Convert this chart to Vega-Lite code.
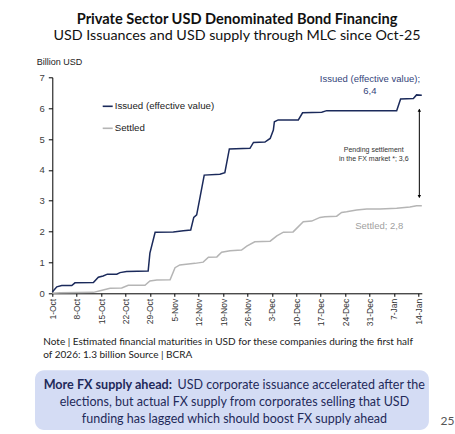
{
  "$schema": "https://vega.github.io/schema/vega-lite/v6.json",
  "width": 369.5,
  "height": 216,
  "autosize": {"type": "none"},
  "padding": {"left": 52.3, "top": 77.3, "right": 33.2, "bottom": 140.7},
  "background": "white",
  "title": {
    "text": "Private Sector USD Denominated Bond Financing",
    "subtitle": "USD Issuances and USD supply through MLC since Oct-25",
    "anchor": "middle",
    "offset": 14,
    "font": "Lato",
    "fontSize": 14.6,
    "fontWeight": "bold",
    "color": "#111111",
    "subtitleFont": "Lato",
    "subtitleFontSize": 14.3,
    "subtitleColor": "#111111",
    "subtitlePadding": 2
  },
  "config": {
    "view": {"stroke": null},
    "font": "Liberation Sans",
    "axis": {"labelOverlap": false, "grid": false}
  },
  "layer": [
    {
      "data": {
        "values": [
          {"date": "2025-10-01T00:00:00Z", "value": 0.04, "series": "Issued (effective value)"},
          {"date": "2025-10-02T07:00:00Z", "value": 0.21, "series": "Issued (effective value)"},
          {"date": "2025-10-03T17:00:00Z", "value": 0.25, "series": "Issued (effective value)"},
          {"date": "2025-10-06T14:00:00Z", "value": 0.25, "series": "Issued (effective value)"},
          {"date": "2025-10-07T12:00:00Z", "value": 0.34, "series": "Issued (effective value)"},
          {"date": "2025-10-12T19:00:00Z", "value": 0.35, "series": "Issued (effective value)"},
          {"date": "2025-10-14T05:00:00Z", "value": 0.52, "series": "Issued (effective value)"},
          {"date": "2025-10-15T14:00:00Z", "value": 0.56, "series": "Issued (effective value)"},
          {"date": "2025-10-16T19:00:00Z", "value": 0.62, "series": "Issued (effective value)"},
          {"date": "2025-10-19T12:00:00Z", "value": 0.62, "series": "Issued (effective value)"},
          {"date": "2025-10-20T10:00:00Z", "value": 0.67, "series": "Issued (effective value)"},
          {"date": "2025-10-22T07:00:00Z", "value": 0.71, "series": "Issued (effective value)"},
          {"date": "2025-10-28T12:00:00Z", "value": 0.72, "series": "Issued (effective value)"},
          {"date": "2025-10-29T00:00:00Z", "value": 1.30, "series": "Issued (effective value)"},
          {"date": "2025-10-30T12:00:00Z", "value": 1.98, "series": "Issued (effective value)"},
          {"date": "2025-11-04T17:00:00Z", "value": 1.99, "series": "Issued (effective value)"},
          {"date": "2025-11-07T14:00:00Z", "value": 2.03, "series": "Issued (effective value)"},
          {"date": "2025-11-09T17:00:00Z", "value": 2.05, "series": "Issued (effective value)"},
          {"date": "2025-11-10T14:00:00Z", "value": 2.46, "series": "Issued (effective value)"},
          {"date": "2025-11-11T10:00:00Z", "value": 2.54, "series": "Issued (effective value)"},
          {"date": "2025-11-12T10:00:00Z", "value": 3.13, "series": "Issued (effective value)"},
          {"date": "2025-11-13T14:00:00Z", "value": 3.83, "series": "Issued (effective value)"},
          {"date": "2025-11-18T02:00:00Z", "value": 3.86, "series": "Issued (effective value)"},
          {"date": "2025-11-19T12:00:00Z", "value": 3.91, "series": "Issued (effective value)"},
          {"date": "2025-11-20T19:00:00Z", "value": 4.68, "series": "Issued (effective value)"},
          {"date": "2025-11-26T17:00:00Z", "value": 4.70, "series": "Issued (effective value)"},
          {"date": "2025-11-27T17:00:00Z", "value": 4.89, "series": "Issued (effective value)"},
          {"date": "2025-12-01T00:00:00Z", "value": 4.90, "series": "Issued (effective value)"},
          {"date": "2025-12-02T12:00:00Z", "value": 5.02, "series": "Issued (effective value)"},
          {"date": "2025-12-03T10:00:00Z", "value": 5.29, "series": "Issued (effective value)"},
          {"date": "2025-12-03T17:00:00Z", "value": 5.56, "series": "Issued (effective value)"},
          {"date": "2025-12-04T19:00:00Z", "value": 5.62, "series": "Issued (effective value)"},
          {"date": "2025-12-10T14:00:00Z", "value": 5.62, "series": "Issued (effective value)"},
          {"date": "2025-12-11T19:00:00Z", "value": 5.85, "series": "Issued (effective value)"},
          {"date": "2025-12-17T07:00:00Z", "value": 5.87, "series": "Issued (effective value)"},
          {"date": "2025-12-18T17:00:00Z", "value": 5.92, "series": "Issued (effective value)"},
          {"date": "2026-01-07T19:00:00Z", "value": 5.92, "series": "Issued (effective value)"},
          {"date": "2026-01-08T22:00:00Z", "value": 6.30, "series": "Issued (effective value)"},
          {"date": "2026-01-12T14:00:00Z", "value": 6.31, "series": "Issued (effective value)"},
          {"date": "2026-01-13T12:00:00Z", "value": 6.43, "series": "Issued (effective value)"},
          {"date": "2026-01-15T00:00:00Z", "value": 6.42, "series": "Issued (effective value)"},
          {"date": "2025-10-01T00:00:00Z", "value": 0.00, "series": "Settled"},
          {"date": "2025-10-03T05:00:00Z", "value": 0.02, "series": "Settled"},
          {"date": "2025-10-12T19:00:00Z", "value": 0.03, "series": "Settled"},
          {"date": "2025-10-14T17:00:00Z", "value": 0.08, "series": "Settled"},
          {"date": "2025-10-17T14:00:00Z", "value": 0.16, "series": "Settled"},
          {"date": "2025-10-20T22:00:00Z", "value": 0.17, "series": "Settled"},
          {"date": "2025-10-22T19:00:00Z", "value": 0.26, "series": "Settled"},
          {"date": "2025-10-27T14:00:00Z", "value": 0.26, "series": "Settled"},
          {"date": "2025-10-29T00:00:00Z", "value": 0.40, "series": "Settled"},
          {"date": "2025-10-31T00:00:00Z", "value": 0.43, "series": "Settled"},
          {"date": "2025-11-03T19:00:00Z", "value": 0.44, "series": "Settled"},
          {"date": "2025-11-05T05:00:00Z", "value": 0.83, "series": "Settled"},
          {"date": "2025-11-06T14:00:00Z", "value": 0.92, "series": "Settled"},
          {"date": "2025-11-10T22:00:00Z", "value": 0.97, "series": "Settled"},
          {"date": "2025-11-13T07:00:00Z", "value": 1.01, "series": "Settled"},
          {"date": "2025-11-14T19:00:00Z", "value": 1.17, "series": "Settled"},
          {"date": "2025-11-17T05:00:00Z", "value": 1.18, "series": "Settled"},
          {"date": "2025-11-18T14:00:00Z", "value": 1.33, "series": "Settled"},
          {"date": "2025-11-21T00:00:00Z", "value": 1.38, "series": "Settled"},
          {"date": "2025-11-24T07:00:00Z", "value": 1.40, "series": "Settled"},
          {"date": "2025-11-25T19:00:00Z", "value": 1.53, "series": "Settled"},
          {"date": "2025-11-28T02:00:00Z", "value": 1.67, "series": "Settled"},
          {"date": "2025-12-02T12:00:00Z", "value": 1.69, "series": "Settled"},
          {"date": "2025-12-04T10:00:00Z", "value": 1.86, "series": "Settled"},
          {"date": "2025-12-06T07:00:00Z", "value": 1.98, "series": "Settled"},
          {"date": "2025-12-09T02:00:00Z", "value": 1.99, "series": "Settled"},
          {"date": "2025-12-12T00:00:00Z", "value": 2.32, "series": "Settled"},
          {"date": "2025-12-14T10:00:00Z", "value": 2.34, "series": "Settled"},
          {"date": "2025-12-16T19:00:00Z", "value": 2.46, "series": "Settled"},
          {"date": "2025-12-18T05:00:00Z", "value": 2.48, "series": "Settled"},
          {"date": "2025-12-21T14:00:00Z", "value": 2.50, "series": "Settled"},
          {"date": "2025-12-23T00:00:00Z", "value": 2.62, "series": "Settled"},
          {"date": "2025-12-24T10:00:00Z", "value": 2.64, "series": "Settled"},
          {"date": "2025-12-27T07:00:00Z", "value": 2.70, "series": "Settled"},
          {"date": "2025-12-30T05:00:00Z", "value": 2.73, "series": "Settled"},
          {"date": "2026-01-03T00:00:00Z", "value": 2.73, "series": "Settled"},
          {"date": "2026-01-07T19:00:00Z", "value": 2.76, "series": "Settled"},
          {"date": "2026-01-11T14:00:00Z", "value": 2.80, "series": "Settled"},
          {"date": "2026-01-13T12:00:00Z", "value": 2.84, "series": "Settled"},
          {"date": "2026-01-15T00:00:00Z", "value": 2.84, "series": "Settled"}
        ]
      },
      "mark": {"type": "line", "strokeWidth": 1.5},
      "encoding": {
        "x": {
          "field": "date",
          "type": "temporal",
          "scale": {
            "type": "utc",
            "domain": [
              {"year": 2025, "month": 10, "date": 1, "utc": true},
              {"year": 2026, "month": 1, "date": 15, "utc": true}
            ]
          },
          "axis": {
            "title": null,
            "format": "%-d-%b",
            "labelAngle": -90,
            "labelOverlap": false,
            "labelFontSize": 8.5,
            "labelColor": "#333333",
            "labelPadding": 2,
            "tickSize": 3,
            "tickCount": 40,
            "tickColor": "#000000",
            "domainColor": "#000000",
            "values": [
              {"year": 2025, "month": 10, "date": 1, "utc": true},
              {"year": 2025, "month": 10, "date": 8, "utc": true},
              {"year": 2025, "month": 10, "date": 15, "utc": true},
              {"year": 2025, "month": 10, "date": 22, "utc": true},
              {"year": 2025, "month": 10, "date": 29, "utc": true},
              {"year": 2025, "month": 11, "date": 5, "utc": true},
              {"year": 2025, "month": 11, "date": 12, "utc": true},
              {"year": 2025, "month": 11, "date": 19, "utc": true},
              {"year": 2025, "month": 11, "date": 26, "utc": true},
              {"year": 2025, "month": 12, "date": 3, "utc": true},
              {"year": 2025, "month": 12, "date": 10, "utc": true},
              {"year": 2025, "month": 12, "date": 17, "utc": true},
              {"year": 2025, "month": 12, "date": 24, "utc": true},
              {"year": 2025, "month": 12, "date": 31, "utc": true},
              {"year": 2026, "month": 1, "date": 7, "utc": true},
              {"year": 2026, "month": 1, "date": 14, "utc": true}
            ]
          }
        },
        "y": {
          "field": "value",
          "type": "quantitative",
          "scale": {"domain": [0, 7], "nice": false},
          "axis": {
            "title": "Billion USD",
            "titleAngle": 0,
            "titleAlign": "left",
            "titleBaseline": "alphabetic",
            "titleX": -16,
            "titleY": -13,
            "titleFontSize": 9,
            "titleFontWeight": "normal",
            "titleColor": "#222222",
            "values": [0, 1, 2, 3, 4, 5, 6, 7],
            "format": "d",
            "tickCount": 20,
            "labelOverlap": false,
            "labelFontSize": 9.5,
            "labelColor": "#404040",
            "labelPadding": 4,
            "tickSize": 4,
            "tickColor": "#000000",
            "domainColor": "#000000"
          }
        },
        "color": {
          "field": "series",
          "type": "nominal",
          "scale": {
            "domain": ["Issued (effective value)", "Settled"],
            "range": ["#1B2A5B", "#B5B5B5"]
          },
          "legend": {
            "orient": "none",
            "legendX": 49.4,
            "legendY": 23,
            "title": null,
            "padding": 0,
            "symbolType": "stroke",
            "symbolSize": 100,
            "symbolStrokeWidth": 1.6,
            "labelFontSize": 9.7,
            "labelColor": "#222222",
            "labelOffset": 1,
            "rowPadding": 11
          }
        }
      }
    },
    {
      "data": {"values": [{}]},
      "mark": {"type": "rect", "fill": "#D4DCF4", "cornerRadius": 9},
      "encoding": {
        "x": {"datum": {"year": 2025, "month": 9, "date": 26, "hours": 1, "utc": true}, "type": "temporal"},
        "x2": {"datum": {"year": 2026, "month": 1, "date": 17, "hours": 1, "utc": true}},
        "y": {"datum": -2.49, "type": "quantitative"},
        "y2": {"datum": -4.43}
      }
    },
    {
      "data": {"values": [{}]},
      "mark": {"type": "rule", "color": "#000000", "strokeWidth": 1},
      "encoding": {
        "x": {"datum": {"year": 2026, "month": 1, "date": 14, "hours": 7, "utc": true}, "type": "temporal"},
        "y": {"datum": 3.11, "type": "quantitative"},
        "y2": {"datum": 5.96}
      }
    },
    {
      "data": {"values": [{}]},
      "mark": {"type": "point", "shape": "triangle-up", "filled": true, "size": 12, "color": "#000000", "opacity": 1},
      "encoding": {
        "x": {"datum": {"year": 2026, "month": 1, "date": 14, "hours": 7, "utc": true}, "type": "temporal"},
        "y": {"datum": 5.93, "type": "quantitative"}
      }
    },
    {
      "data": {"values": [{}]},
      "mark": {"type": "point", "shape": "triangle-down", "filled": true, "size": 12, "color": "#000000", "opacity": 1},
      "encoding": {
        "x": {"datum": {"year": 2026, "month": 1, "date": 14, "hours": 7, "utc": true}, "type": "temporal"},
        "y": {"datum": 3.14, "type": "quantitative"}
      }
    },
    {
      "data": {"values": [{}]},
      "mark": {"type": "text", "align": "center", "baseline": "middle", "fontSize": 9.5, "lineHeight": 12, "color": "#34447A"},
      "encoding": {
        "x": {"datum": {"year": 2025, "month": 12, "date": 31, "hours": 3, "utc": true}, "type": "temporal"},
        "y": {"datum": 6.94, "type": "quantitative"},
        "text": {"value": ["Issued (effective value);", "6,4"]}
      }
    },
    {
      "data": {"values": [{}]},
      "mark": {"type": "text", "align": "center", "baseline": "middle", "fontSize": 7, "lineHeight": 9, "color": "#333333"},
      "encoding": {
        "x": {"datum": {"year": 2026, "month": 1, "date": 1, "hours": 5, "utc": true}, "type": "temporal"},
        "y": {"datum": 4.645, "type": "quantitative"},
        "text": {"value": ["Pending settlement", "in the FX market *; 3,6"]}
      }
    },
    {
      "data": {"values": [{}]},
      "mark": {"type": "text", "align": "center", "baseline": "middle", "fontSize": 9.5, "color": "#A0A0A0"},
      "encoding": {
        "x": {"datum": {"year": 2026, "month": 1, "date": 2, "hours": 19, "utc": true}, "type": "temporal"},
        "y": {"datum": 2.18, "type": "quantitative"},
        "text": {"value": "Settled; 2,8"}
      }
    },
    {
      "data": {"values": [{}]},
      "mark": {"type": "text", "align": "left", "baseline": "middle", "font": "Lato", "fontSize": 10, "lineHeight": 12.3, "color": "#222222"},
      "encoding": {
        "x": {"datum": {"year": 2025, "month": 9, "date": 28, "hours": 10, "utc": true}, "type": "temporal"},
        "y": {"datum": -1.59, "type": "quantitative"},
        "text": {"value": ["Note | Estimated financial maturities in USD for these companies during the first half", "of 2026: 1.3 billion Source | BCRA"]}
      }
    },
    {
      "data": {"values": [{}]},
      "mark": {"type": "text", "align": "right", "baseline": "middle", "font": "Lato", "fontSize": 12.6, "fontWeight": "bold", "color": "#1F2A5A"},
      "encoding": {
        "x": {"datum": {"year": 2025, "month": 11, "date": 4, "hours": 8, "utc": true}, "type": "temporal"},
        "y": {"datum": -2.97, "type": "quantitative"},
        "text": {"value": "More FX supply ahead:"}
      }
    },
    {
      "data": {"values": [{}]},
      "mark": {"type": "text", "align": "left", "baseline": "middle", "font": "Lato", "fontSize": 12.5, "color": "#1F2A5A"},
      "encoding": {
        "x": {"datum": {"year": 2025, "month": 11, "date": 5, "hours": 22, "utc": true}, "type": "temporal"},
        "y": {"datum": -2.97, "type": "quantitative"},
        "text": {"value": "USD corporate issuance accelerated after the"}
      }
    },
    {
      "data": {"values": [{}]},
      "mark": {"type": "text", "align": "center", "baseline": "middle", "font": "Lato", "fontSize": 12.5, "lineHeight": 16.8, "color": "#1F2A5A"},
      "encoding": {
        "x": {"datum": {"year": 2025, "month": 11, "date": 22, "hours": 6, "utc": true}, "type": "temporal"},
        "y": {"datum": -3.53, "type": "quantitative"},
        "text": {"value": ["elections, but actual FX supply from corporates selling that USD", "funding has lagged which should boost FX supply ahead"]}
      }
    },
    {
      "data": {"values": [{}]},
      "mark": {"type": "text", "align": "center", "baseline": "middle", "font": "Lato", "fontSize": 12, "color": "#555555"},
      "encoding": {
        "x": {"datum": {"year": 2026, "month": 1, "date": 22, "hours": 9, "utc": true}, "type": "temporal"},
        "y": {"datum": -4.13, "type": "quantitative"},
        "text": {"value": "25"}
      }
    }
  ]
}
